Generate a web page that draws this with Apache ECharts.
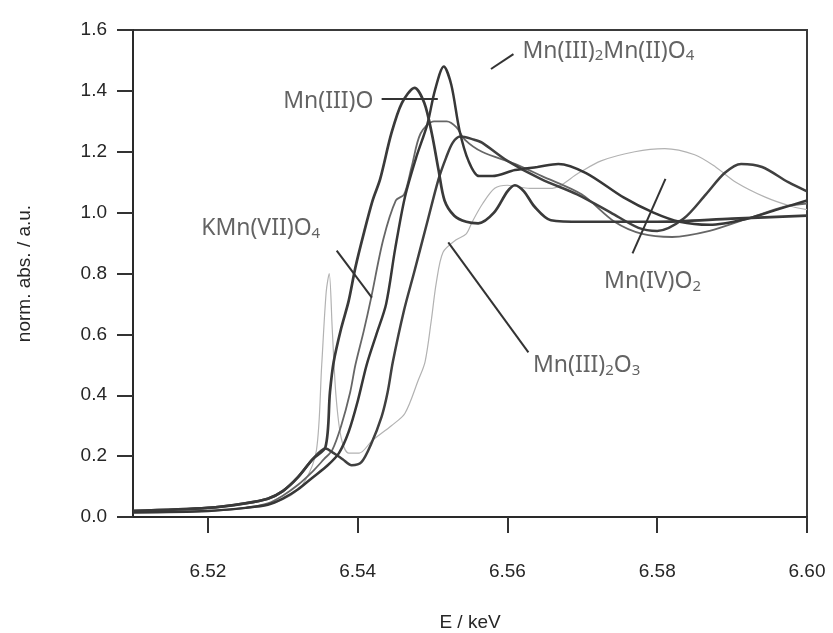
<!DOCTYPE html>
<html>
<head>
<meta charset="utf-8">
<script src="https://cdn.jsdelivr.net/npm/echarts@6/dist/echarts.min.js"></script>
<style>
  html, body { margin: 0; padding: 0; background: #fff; }
  #chart { width: 833px; height: 633px; }
</style>
</head>
<body>
<div id="chart"></div>
<script>
// tick positions
const xTicks = [6.52, 6.54, 6.56, 6.58, 6.60];

// spectra, [E / keV, norm. abs.]
const mnO = [[6.51,0.02],[6.52,0.03],[6.525,0.045],[6.528,0.06],[6.530,0.085],[6.532,0.13],[6.534,0.19],[6.5357,0.23],[6.5363,0.41],[6.5368,0.51],[6.5378,0.62],[6.5388,0.71],[6.5397,0.82],[6.5408,0.93],[6.5420,1.04],[6.5430,1.11],[6.5445,1.26],[6.5459,1.36],[6.5476,1.41],[6.5489,1.36],[6.5499,1.26],[6.5508,1.14],[6.5516,1.04],[6.5529,0.99],[6.5545,0.97],[6.5561,0.965],[6.5582,1.00],[6.5600,1.07],[6.5610,1.09],[6.5622,1.07],[6.5636,1.02],[6.5658,0.975],[6.570,0.97],[6.58,0.97],[6.59,0.98],[6.60,0.99]];

const kmnO4 = [[6.51,0.015],[6.52,0.02],[6.525,0.03],[6.528,0.045],[6.530,0.07],[6.532,0.105],[6.534,0.15],[6.5355,0.19],[6.5366,0.22],[6.5378,0.30],[6.5390,0.41],[6.5397,0.50],[6.5408,0.61],[6.5418,0.72],[6.5434,0.91],[6.5451,1.04],[6.5462,1.06],[6.5472,1.15],[6.5484,1.26],[6.5502,1.30],[6.5519,1.30],[6.5532,1.28],[6.5543,1.24],[6.5566,1.20],[6.5610,1.16],[6.5646,1.12],[6.5699,1.06],[6.5743,0.97],[6.578,0.93],[6.582,0.92],[6.587,0.94],[6.592,0.98],[6.597,1.02],[6.60,1.03]];

const mn3O4 = [[6.51,0.015],[6.52,0.02],[6.525,0.03],[6.528,0.04],[6.530,0.06],[6.532,0.09],[6.534,0.13],[6.536,0.17],[6.5375,0.21],[6.5388,0.28],[6.5400,0.38],[6.5412,0.50],[6.5425,0.60],[6.5438,0.70],[6.5450,0.88],[6.5463,1.05],[6.5478,1.18],[6.5493,1.29],[6.5503,1.40],[6.5515,1.48],[6.5525,1.42],[6.5536,1.27],[6.5548,1.17],[6.5562,1.12],[6.5580,1.12],[6.5610,1.14],[6.5640,1.15],[6.5668,1.16],[6.5705,1.13],[6.5755,1.05],[6.5795,1.00],[6.583,0.97],[6.587,0.96],[6.592,0.98],[6.596,1.01],[6.60,1.04]];

const mnO2 = [[6.51,0.02],[6.52,0.03],[6.525,0.045],[6.528,0.06],[6.530,0.085],[6.532,0.13],[6.534,0.19],[6.5357,0.225],[6.5368,0.21],[6.5380,0.19],[6.5392,0.17],[6.5405,0.18],[6.5418,0.24],[6.5432,0.33],[6.5440,0.41],[6.5447,0.51],[6.5462,0.68],[6.5475,0.80],[6.5492,0.96],[6.5508,1.11],[6.5518,1.18],[6.5527,1.23],[6.5537,1.25],[6.5555,1.24],[6.5566,1.23],[6.5600,1.17],[6.5645,1.11],[6.5693,1.06],[6.5738,1.00],[6.5775,0.95],[6.5800,0.94],[6.5835,0.98],[6.5865,1.06],[6.5890,1.13],[6.5912,1.16],[6.5940,1.15],[6.5975,1.10],[6.60,1.07]];

const mn2O3 = [[6.51,0.015],[6.52,0.02],[6.527,0.035],[6.531,0.07],[6.533,0.12],[6.5345,0.22],[6.5352,0.50],[6.5358,0.74],[6.5362,0.80],[6.5366,0.62],[6.5371,0.40],[6.5378,0.26],[6.5388,0.21],[6.5402,0.21],[6.5419,0.25],[6.5445,0.30],[6.5463,0.34],[6.5481,0.45],[6.5490,0.51],[6.5498,0.64],[6.5505,0.77],[6.5514,0.87],[6.5531,0.91],[6.5545,0.93],[6.5553,0.97],[6.5567,1.03],[6.5583,1.08],[6.5600,1.09],[6.5630,1.08],[6.5660,1.08],[6.5695,1.13],[6.5725,1.17],[6.5770,1.20],[6.5810,1.21],[6.5850,1.19],[6.5878,1.15],[6.5905,1.10],[6.5945,1.05],[6.5980,1.02],[6.60,1.01]];

// annotation texts, where they sit, and their leader lines (data coords)
const noteTexts = ['Mn(III)O', 'Mn(III){s|2}Mn(II)O{s|4}', 'KMn(VII)O{s|4}', 'Mn(IV)O{s|2}', 'Mn(III){s|2}O{s|3}'];
const noteAt = [[6.5421, 1.364], [6.5620, 1.531], [6.5191, 0.948], [6.5729, 0.774], [6.5634, 0.498]];
const noteSide = ['left', 'right', 'right', 'right', 'right'];
const leaders = [
  [[6.5432, 1.374], [6.5507, 1.374]],
  [[6.5578, 1.472], [6.5608, 1.521]],
  [[6.5372, 0.875], [6.5419, 0.721]],
  [[6.5767, 0.866], [6.5811, 1.111]],
  [[6.5521, 0.902], [6.5628, 0.541]]
];

const chart = echarts.init(document.getElementById('chart'));

function curve(name, data, color, width) {
  return {
    name: name,
    type: 'line',
    data: data,
    showSymbol: false,
    smooth: 0.3,
    lineStyle: { color: color, width: width },
    z: 3
  };
}

const axisFont = { fontFamily: 'Liberation Sans, Arial, sans-serif', fontSize: 19, color: '#262626' };
const noteFont = 'Noto Sans, DejaVu Sans, sans-serif';

const option = {
  backgroundColor: '#ffffff',
  animation: false,
  grid: {
    left: 133, right: 26, top: 30, bottom: 116,
    outerBoundsMode: 'none',
    show: true, borderColor: '#3a3a3a', borderWidth: 2
  },
  xAxis: {
    type: 'value',
    min: 6.51, max: 6.60,
    name: 'E / keV',
    nameLocation: 'middle',
    nameGap: 96,
    nameTextStyle: axisFont,
    axisLine: { lineStyle: { color: '#2a2a2a', width: 2 } },
    axisTick: { customValues: xTicks, length: 16, lineStyle: { color: '#333', width: 2 } },
    axisLabel: Object.assign({ customValues: xTicks, margin: 45, formatter: v => v.toFixed(2) }, axisFont),
    splitLine: { show: false }
  },
  yAxis: {
    type: 'value',
    min: 0, max: 1.6, interval: 0.2,
    name: 'norm. abs. / a.u.',
    nameLocation: 'middle',
    nameGap: 99,
    nameTextStyle: axisFont,
    axisLine: { show: true, lineStyle: { color: '#2a2a2a', width: 2 } },
    axisTick: { show: true, length: 16, lineStyle: { color: '#333', width: 2 } },
    axisLabel: Object.assign({ margin: 26, formatter: v => v.toFixed(1) }, axisFont),
    splitLine: { show: false }
  },
  series: [
    curve('Mn(III)2O3', mn2O3, '#b2b2b2', 1.2),
    curve('KMn(VII)O4', kmnO4, '#666666', 1.8),
    curve('Mn(IV)O2', mnO2, '#404040', 2.5),
    curve('Mn(III)2Mn(II)O4', mn3O4, '#373737', 2.5),
    curve('Mn(III)O', mnO, '#3a3a3a', 2.7),
    {
      name: 'notes',
      type: 'scatter',
      symbolSize: 0,
      silent: true,
      z: 5,
      data: noteAt.map((p, i) => ({
        value: p,
        label: {
          show: true,
          position: noteSide[i],
          distance: 0,
          formatter: noteTexts[i],
          fontFamily: noteFont,
          fontSize: 23,
          color: '#3c3c3c',
          rich: {
            s: { fontFamily: noteFont, fontSize: 15, color: '#3c3c3c', padding: [10, 0, 0, 0] }
          }
        }
      })),
      markLine: {
        silent: true,
        symbol: 'none',
        animation: false,
        label: { show: false },
        lineStyle: { color: '#333', width: 2, type: 'solid' },
        data: leaders.map(l => [{ coord: l[0] }, { coord: l[1] }])
      }
    }
  ]
};

chart.setOption(option);
</script>
</body>
</html>
